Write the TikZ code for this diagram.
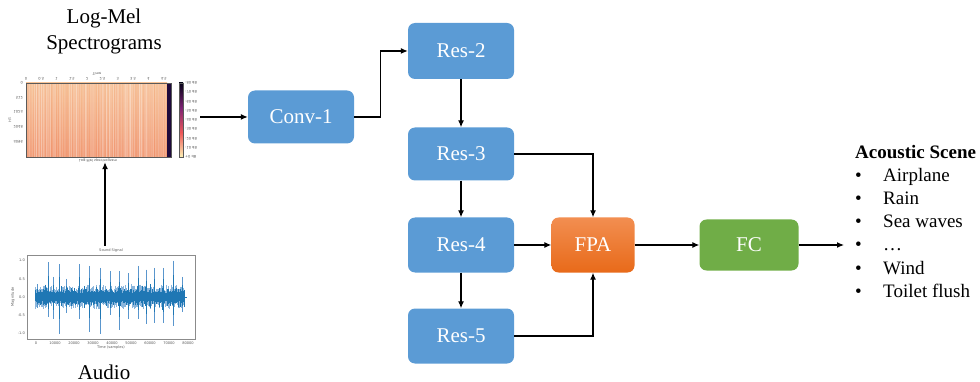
\documentclass[tikz,border=0pt]{standalone}
\usepackage{fontspec}
\usepackage{graphicx}
\setmainfont{Liberation Serif}
\newfontfamily\plotfont{DejaVu Sans}
\usetikzlibrary{arrows.meta}
\definecolor{boxblue}{RGB}{91,155,213}
\definecolor{fpatop}{RGB}{242,142,80}
\definecolor{fpabot}{RGB}{232,106,26}
\definecolor{fcgreen}{RGB}{112,173,71}
\definecolor{mplblue}{RGB}{31,119,180}
\definecolor{spklight}{RGB}{90,150,205}
\definecolor{axgray}{RGB}{90,90,90}
\definecolor{spectop}{RGB}{248,195,150}
\definecolor{specbot}{RGB}{242,152,112}
\definecolor{streak}{RGB}{230,110,80}
\definecolor{specdark}{RGB}{30,10,60}
\definecolor{cbA}{RGB}{5,3,25}
\definecolor{cbB}{RGB}{125,35,115}
\definecolor{cbC}{RGB}{238,90,90}
\definecolor{cbD}{RGB}{252,240,180}
\begin{document}
\begin{tikzpicture}[x=1pt,y=-1pt,
  block/.style={rounded corners=7pt, minimum width=106pt, minimum height=55pt,
    text=white, font=\fontsize{21}{24}\selectfont, inner sep=0pt},
  arr/.style={-{Latex[length=7pt,width=6pt]}, line width=1.2pt},
  lbl/.style={font=\fontsize{21}{24}\selectfont},
  lst/.style={font=\fontsize{19}{22}\selectfont, anchor=base west, inner sep=0pt},
  tiny/.style={font=\plotfont\fontsize{3.6}{4}\selectfont, text=axgray, inner sep=0pt},
  region/.style={minimum width=190pt, inner sep=0pt}]
\useasboundingbox (0,0) rectangle (980,382);

% ---------- labels ----------
\node[lbl] (lm) at (104,18) {Log-Mel};
\node[lbl] (sp) at (104,45) {Spectrograms};
\node[lbl] (au) at (104,372) {Audio};

% ---------- spectrogram ----------
\node[region, minimum height=90pt] (spec) at (105,117) {};
\shade[top color=spectop, bottom color=specbot] (26,83) rectangle (167,157);
\pgfmathsetseed{7}
\foreach \i in {0,...,200}{
  \pgfmathsetmacro\xx{26.3+\i*0.7}
  \pgfmathsetmacro\opa{0.3*rnd}
  \pgfmathsetmacro\opc{0.08*rnd}
  \draw[white, opacity=\opa, line width=0.7pt] (\xx,83) -- (\xx,157);
  \draw[streak, opacity=\opc, line width=0.4pt] (\xx,83) -- (\xx,157);
}
\fill[specdark] (167,83) rectangle (171,157);
\draw[axgray, line width=0.3pt] (26,83) rectangle (171,157);
% top ticks (flipped)
\foreach \k/\t in {0/0,1/0.5,2/1,3/1.5,4/2,5/2.5,6/3,7/3.5,8/4,9/4.5}{
  \node[tiny] (tt\k) at (26+\k*15.3,79) {\scalebox{1}[-1]{\t}};
}
\node[tiny] (tlab) at (97,74) {\scalebox{1}[-1]{Time}};
\foreach \k/\y/\t in {0/83/0,1/98/512,2/112/1024,3/127/2048,4/142/4096}{
  \node[tiny, anchor=east] (yl\k) at (23,\y) {\scalebox{1}[-1]{\t}};
}
\node[tiny, rotate=90] (hz) at (10,120) {\scalebox{1}[-1]{Hz}};
\node[tiny] (stitle) at (98,160) {\scalebox{1}[-1]{Log-Mel spectrogram}};
% colorbar
\shade[top color=cbA, bottom color=cbB] (179,83) rectangle (183,108);
\shade[top color=cbB, bottom color=cbC] (179,108) rectangle (183,133);
\shade[top color=cbC, bottom color=cbD] (179,133) rectangle (183,157);
\draw[axgray, line width=0.3pt] (179,83) rectangle (183,157);
\foreach \k/\t in {0/-80,1/-70,2/-60,3/-50,4/-40,5/-30,6/-20,7/-10,8/+0}{
  \node[tiny, anchor=west] (cb\k) at (185,83+\k*9.25) {\scalebox{1}[-1]{\t\ dB}};
}

% ---------- waveform ----------
\node[region, minimum height=106pt] (wave) at (105,299) {};
\node[tiny] (wtitle) at (111,251) {Sound Signal};
\draw[axgray!70, line width=0.4pt] (27,255) rectangle (195,339);
\foreach \v/\t in {1.0/1.0,0.5/0.5,0/0.0,-0.5/-0.5,-1.0/-1.0}{
  \node[tiny, anchor=east] at (25,297-\v*36.5) {\t};
}
\node[tiny, rotate=90] (wy) at (13,297) {Magnitude};
\foreach \k/\t in {0/0,1/10000,2/20000,3/30000,4/40000,5/50000,6/60000,7/70000,8/80000}{
  \node[tiny] at (36+\k*19,343) {\t};
}
\node[tiny] (wx) at (111,348) {Time (samples)};
\pgfmathsetseed{11}
% light fuzz
\foreach \i in {0,...,150}{
  \pgfmathsetmacro\xx{35+\i*0.99}
  \pgfmathsetmacro\up{(0.15+0.2*rnd)*36}
  \pgfmathsetmacro\dn{(0.15+0.2*rnd)*36}
  \draw[spklight!70, line width=0.3pt] (\xx,297-\up) -- (\xx,297+\dn);
}
% spikes
\foreach \x/\u/\d in {37/0.35/0.3,48/0.95/0.55,53/0.55/0.6,59/0.9/1.0,66/0.5/0.45,79/0.9/0.6,89/0.85/0.95,100/0.8/1.0,110/0.7/0.5,119/0.7/0.9,128/0.65/0.6,138/0.85/0.6,146/0.75/0.75,154/0.8/0.7,163/0.8/0.7,173/1.0/0.8,182/0.55/0.4}{
  \draw[spklight, line width=0.9pt] (\x,297-\u*36.5) -- (\x,297+\d*36.5);
  \draw[mplblue, line width=0.7pt] (\x,297-\u*22) -- (\x,297+\d*22);
}
% dense core
\foreach \i in {0,...,300}{
  \pgfmathsetmacro\xx{35+\i*0.497}
  \pgfmathsetmacro\env{0.14+0.24*rnd*rnd}
  \pgfmathsetmacro\up{\env*(0.55+0.45*rnd)*36}
  \pgfmathsetmacro\dn{\env*(0.55+0.45*rnd)*36}
  \draw[mplblue, line width=0.5pt] (\xx,297-\up) -- (\xx,297+\dn);
}
\draw[mplblue, line width=0.6pt] (184,297) -- (187,297);

% ---------- network ----------
\node[block, fill=boxblue, minimum height=53pt] (conv) at (301,117) {Conv-1};
\node[block, fill=boxblue, minimum height=56pt] (res2) at (461,51) {Res-2};
\node[block, fill=boxblue, minimum height=53pt] (res3) at (461,154) {Res-3};
\node[block, fill=boxblue] (res4) at (461,245) {Res-4};
\node[block, fill=boxblue] (res5) at (461,336) {Res-5};
\node[block, top color=fpatop, bottom color=fpabot, minimum width=83pt] (fpa) at (593,245) {FPA};
\node[block, fill=fcgreen, minimum width=99pt, minimum height=51pt] (fc) at (749,245) {FC};

\draw[arr] (wave.north) -- (spec.south);
\draw[arr] (spec.east) -- (conv.west);
\draw[arr] (conv.east) -- ++(26,0) |- (res2.west);
\draw[arr] (res2.south) -- (res3.north);
\draw[arr] (res3.east) -| (fpa.north);
\draw[arr] (res3.south) -- (res4.north);
\draw[arr] (res4.east) -- (fpa.west);
\draw[arr] (res4.south) -- (res5.north);
\draw[arr] (res5.east) -| (fpa.south);
\draw[arr] (fpa.east) -- (fc.west);
\coordinate (listin) at (844,245);
\draw[arr] (fc.east) -- (listin);

% ---------- list ----------
\node[lst, font=\fontsize{19}{22}\selectfont\bfseries] (ltitle) at (855,159) {Acoustic Scene};
\foreach \k/\t in {1/Airplane,2/Rain,3/Sea waves,4/…,5/Wind,6/Toilet flush}{
  \node[lst] (b\k) at (855,159+\k*23) {•};
  \node[lst] (l\k) at (883,159+\k*23) {\t};
}
\end{tikzpicture}
\end{document}
